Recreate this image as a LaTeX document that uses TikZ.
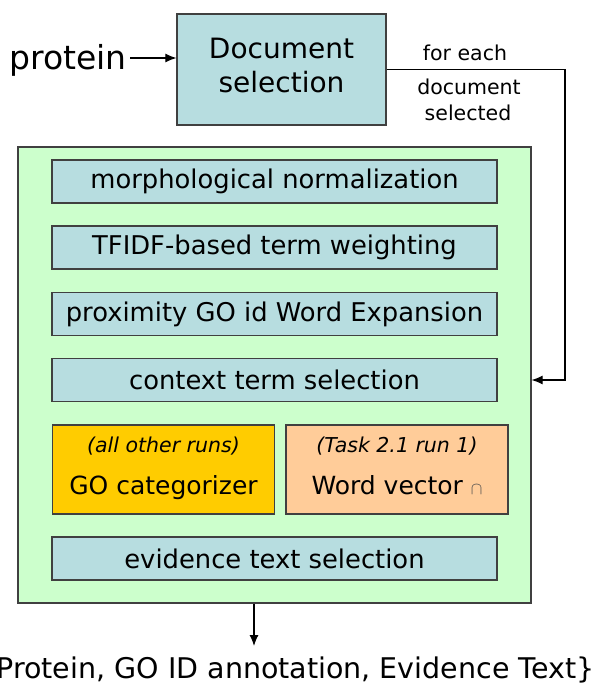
\documentclass[tikz,border=0pt]{standalone}
\usepackage{fontspec}
\setmainfont{DejaVu Sans}
\usetikzlibrary{arrows.meta}

\definecolor{docblue}{RGB}{183,221,224}
\definecolor{panelgreen}{RGB}{204,255,204}
\definecolor{gogold}{RGB}{255,204,0}
\definecolor{wordpeach}{RGB}{255,204,153}
\newcommand{\runtag}[1]{{\fontsize{20.5}{24}\selectfont\itshape #1\strut}}

\begin{document}
\begin{tikzpicture}[x=1pt, y=-1pt,
    box/.style={draw=black!75, line width=1.2pt, inner sep=0pt},
    stage/.style={box, fill=docblue, minimum width=445pt, minimum height=43pt,
      font=\fontsize{25.8}{28}\selectfont},
    runbox/.style={box, minimum width=222pt, minimum height=89pt, align=center,
      font=\fontsize{25}{28}\selectfont},
    flow/.style={-{Latex[length=11pt,width=9pt]}, line width=1.1pt}]
  \useasboundingbox (0,0) rectangle (598,696);

  % input and document selection
  \node (prot) at (68,60) {\fontsize{33}{36}\selectfont protein};
  \node[box, fill=docblue, minimum width=209pt, minimum height=111pt, align=center,
    font=\fontsize{28}{34}\selectfont] (doc) at (281.5,69.5) {Document\\selection\\[-25pt]};
  \draw[flow] (prot.east) ++(0,-2) coordinate (pin) -- (doc.west |- pin);

  % per-document processing
  \node[box, fill=panelgreen, minimum width=513pt, minimum height=456pt] (panel) at (274.5,375) {};
  \node[stage] (morph) at (274.5,181.5) {morphological normalization};
  \node[stage] (tfidf) at (274.5,247.5) {TFIDF-based term weighting};
  \node[stage] (prox) at (274.5,314) {proximity GO id Word Expansion};
  \node[stage] (ctx) at (274.5,380) {context term selection};
  \node[runbox, fill=gogold] (gocat) at (163.5,469.5)
    {\runtag{(all other runs)}\\[14pt]GO categorizer\strut};
  \node[runbox, fill=wordpeach] (wvec) at (397,469.5)
    {\runtag{(Task 2.1 run 1)}\\[14pt]Word vector {\fontsize{18}{18}\selectfont\color{black!70}$\cap$}\strut};
  \node[stage] (evid) at (274.5,558.5) {evidence text selection};

  % loop back for each selected document
  \coordinate (bend) at (565,0);
  \draw[flow] (doc.east) -| (bend |- ctx) -- (ctx -| panel.east);
  \node[font=\fontsize{20.5}{24}\selectfont] (each) at (465,53) {for each};
  \node[font=\fontsize{20.5}{24}\selectfont] (docsel) at (469,87) {document};
  \node[font=\fontsize{20.5}{24}\selectfont] (sel) at (468,113) {selected};

  % output
  \coordinate (outtip) at (254,646);
  \draw[flow] (outtip |- panel.south) -- (outtip);
  \node[anchor=east, font=\fontsize{28.5}{32}\selectfont] (result) at (598,670)
    {\{Protein, GO ID annotation, Evidence Text\}};
\end{tikzpicture}
\end{document}
